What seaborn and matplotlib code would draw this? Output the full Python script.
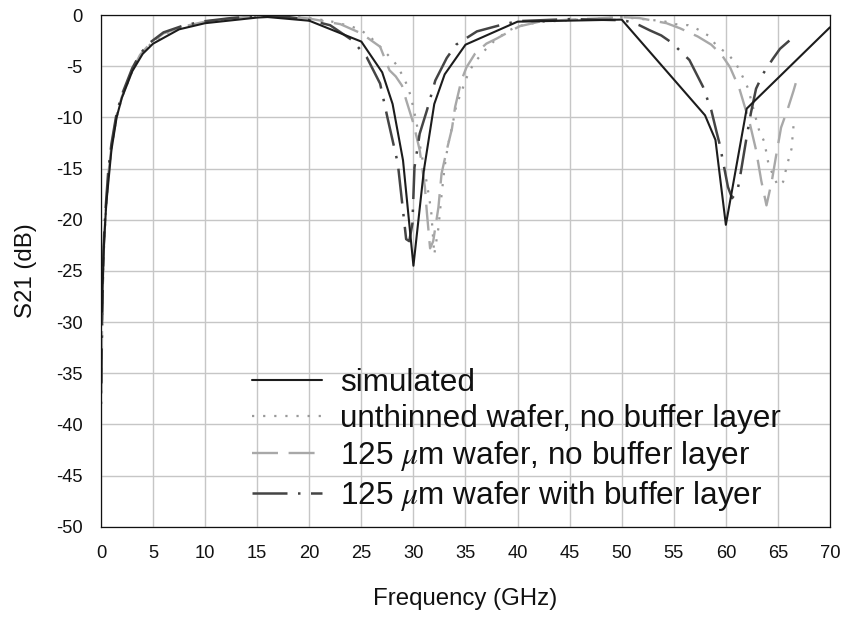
import matplotlib
matplotlib.use("Agg")
import matplotlib.pyplot as plt
import seaborn as sns

# Transmission S21 of the coplanar line: simulation and three measured wafers
sim_freq = [0.1, 0.25, 0.5, 1, 1.5, 2, 3, 4, 5, 7.5, 10, 15, 16, 20, 25, 27, 28,
            29, 30, 31, 32, 33, 35, 40, 50, 58, 59, 60, 62, 70]
sim_s21 = [-29, -23, -18.5, -13.2, -10, -8.1, -5.5, -3.8, -2.8, -1.4, -0.8, -0.25,
           -0.2, -0.56, -2.6, -5.6, -8.7, -14.2, -24.5, -15.2, -8.7, -5.8, -2.9,
           -0.65, -0.45, -9.8, -12.2, -20.5, -9.15, -1.2]

unthinned_freq = [0.04, 0.1, 0.2, 0.3, 0.45, 0.7, 1.0, 1.5, 2.0, 2.5, 3.0, 3.75, 4.7,
                  6.0, 8.0, 10.0, 12.5, 14.5, 16.0, 18.0, 20.0, 22.0, 24.0, 25.0, 26.0,
                  27.0, 28.0, 28.4, 29.0, 29.5, 29.8, 30.3, 30.6, 31.3, 31.7, 32.0,
                  32.4, 32.7, 33.0, 33.3, 33.7, 34.1, 34.9, 35.3, 35.9, 36.9, 37.8,
                  39.0, 40.0, 42.0, 45.0, 48.0, 50.0, 52.0, 54.0, 55.2, 56.4, 57.3,
                  58.3, 59.2, 60.2, 61.0, 61.6, 62.1, 62.4, 62.8, 63.2, 63.7, 64.1,
                  64.6, 65.0, 65.5, 65.7, 66.0, 66.3, 66.5]
unthinned_s21 = [-38, -31.5, -25.5, -22.5, -19.5, -15.8, -13, -10, -8.1, -6.8, -5.5,
                 -4.0, -2.9, -1.9, -1.1, -0.7, -0.35, -0.15, -0.1, -0.15, -0.3, -0.6,
                 -1.1, -1.5, -2.3, -3.3, -4.4, -4.9, -6.0, -7.1, -8.2, -10.5, -12.6,
                 -16.5, -19.1, -23.4, -20.8, -17.6, -14.8, -12.8, -11.0, -8.9, -6.7,
                 -5.6, -4.6, -3.4, -2.5, -1.6, -1.1, -0.7, -0.5, -0.35, -0.2, -0.4,
                 -0.6, -0.9, -1.0, -1.4, -2.0, -3.1, -3.8, -4.8, -6.0, -7.1, -8.2,
                 -9.8, -11.3, -12.4, -14.6, -15.8, -16.7, -16.3, -15.4, -14.2, -13.1,
                 -10.8]

thin_freq = [0.04, 0.1, 0.2, 0.3, 0.45, 0.7, 1.0, 1.5, 2.0, 2.5, 3.0, 3.75, 4.7, 6.0,
             8.0, 10.0, 12.5, 14.5, 16.0, 18.0, 20.0, 23.0, 25.0, 26.8, 27.7, 28.3,
             28.9, 29.3, 30.0, 30.6, 31.1, 31.3, 31.6, 31.9, 32.4, 32.7, 33.2, 33.7,
             34.0, 34.6, 35.1, 35.9, 37.0, 38.0, 38.9, 40.2, 42.1, 45.0, 47.5, 49.8,
             51.7, 54.3, 55.6, 57.3, 58.6, 59.6, 60.4, 61.3, 62.3, 62.9, 63.4, 63.9,
             64.4, 64.8, 65.3, 66.0, 66.5, 66.9]
thin_s21 = [-37, -30.5, -25, -22, -19.2, -15.6, -12.9, -9.8, -8.0, -6.7, -5.4, -3.9,
            -2.8, -1.8, -1.1, -0.65, -0.33, -0.15, -0.1, -0.15, -0.35, -0.9, -1.8,
            -3.1, -5.4, -6.0, -6.9, -8.3, -10.6, -13.2, -16.8, -19.4, -22.8, -22.1,
            -18.8, -15.5, -13.2, -11.1, -9.0, -6.4, -5.1, -3.8, -2.8, -2.3, -1.8,
            -1.1, -0.65, -0.45, -0.35, -0.2, -0.3, -0.8, -1.3, -2.1, -2.9, -3.9,
            -5.1, -7.2, -10.6, -13.2, -16.2, -18.6, -16.3, -13.9, -11.0, -9.0, -7.4,
            -6.0]

buffer_freq = [0.04, 0.1, 0.2, 0.3, 0.45, 0.7, 1.0, 1.5, 2.0, 2.5, 3.0, 3.75, 4.7,
               6.0, 8.0, 10.0, 12.5, 14.5, 16.0, 18.0, 20.0, 22.0, 24.1, 25.5, 26.8,
               27.5, 28.5, 29.3, 29.6, 29.9, 30.1, 30.6, 31.3, 32.1, 33.2, 34.1, 36.1,
               38.3, 40.0, 42.5, 45.0, 47.5, 49.5, 50.5, 51.7, 52.7, 53.8, 54.8, 56.5,
               57.8, 58.6, 59.1, 59.4, 60.2, 60.6, 61.1, 61.3, 62.0, 62.4, 62.9, 63.6,
               64.5, 65.2, 66.1]
buffer_s21 = [-36, -30, -24.5, -21.5, -18.8, -15.2, -12.6, -9.6, -7.8, -6.5, -5.2,
              -3.8, -2.7, -1.7, -1.0, -0.6, -0.3, -0.15, -0.1, -0.2, -0.5, -1.0, -2.45,
              -4.1, -6.7, -10.0, -14.5, -21.9, -22.1, -20.4, -14.9, -11.6, -9.3, -6.4,
              -4.2, -2.9, -1.6, -1.0, -0.6, -0.5, -0.4, -0.45, -0.5, -0.6, -1.0, -1.5,
              -2.0, -2.7, -4.4, -7.0, -9.3, -11.4, -12.6, -16.8, -17.9, -17.2, -16.2,
              -11.9, -9.6, -7.2, -5.7, -4.3, -3.3, -2.5]

labels = ["simulated",
          "unthinned wafer, no buffer layer",
          r"125 $\mu$m wafer, no buffer layer",
          r"125 $\mu$m wafer with buffer layer"]
x_ticks = list(range(0, 71, 5))
y_ticks = list(range(-50, 1, 5))

sns.set_style("white")
plt.rcParams["font.family"] = ["Liberation Sans", "DejaVu Sans"]
plt.rcParams["mathtext.fontset"] = "stix"
plt.rcParams["axes.unicode_minus"] = False

fig = plt.figure(figsize=(8.45, 6.17), dpi=100)
W, H = 845, 617
ax = fig.add_axes([101 / W, 1 - 526.7 / H, (830 - 101) / W, (526.7 - 15) / H])

# draw back-to-front so the simulation sits on top
h_unthin = sns.lineplot(x=unthinned_freq, y=unthinned_s21, ax=ax, color="#999999",
                        linewidth=1.6, linestyle=(0, (1, 4.0)), label=labels[1],
                        legend=False).get_lines()[-1]
h_thin = sns.lineplot(x=thin_freq, y=thin_s21, ax=ax, color="#a8a8a8",
                      linewidth=1.7, linestyle=(0, (11, 4.5)), label=labels[2],
                      legend=False).get_lines()[-1]
h_buf = sns.lineplot(x=buffer_freq, y=buffer_s21, ax=ax, color="#444444",
                     linewidth=1.8, linestyle=(0, (14, 4.2, 1, 4.2)), label=labels[3],
                     legend=False).get_lines()[-1]
h_sim = sns.lineplot(x=sim_freq, y=sim_s21, ax=ax, color="#1c1c1c",
                     linewidth=1.5, label=labels[0], legend=False).get_lines()[-1]

ax.set_xlim(0, 70)
ax.set_ylim(-50, 0)
ax.set_xticks(x_ticks)
ax.set_yticks(y_ticks)
ax.grid(True, color="#c6c6c6", linewidth=1.0)
ax.set_axisbelow(True)
for s in ax.spines.values():
    s.set_color("#111111")
    s.set_linewidth(0.9)
ax.tick_params(axis="both", direction="out", length=6, width=0.8, color="#111111",
               labelsize=13.2, pad=7, labelcolor="#111111")

ax.set_xlabel("Frequency (GHz)", fontsize=17.3, color="#111111")
ax.set_ylabel("S21 (dB)", fontsize=17.3, color="#111111")
ax.xaxis.set_label_coords(0.5, -0.12)
ax.yaxis.set_label_coords(-0.088, 0.5)

ax.legend([h_sim, h_unthin, h_thin, h_buf], labels, loc="upper left",
          bbox_to_anchor=(251.7 / W, 1 - 368 / H), bbox_transform=fig.transFigure,
          frameon=False, fontsize=22.7, borderpad=0, borderaxespad=0,
          handlelength=2.22, handletextpad=0.58, labelspacing=0.18,
          labelcolor="#111111")

fig.savefig("out.png", dpi=100)
